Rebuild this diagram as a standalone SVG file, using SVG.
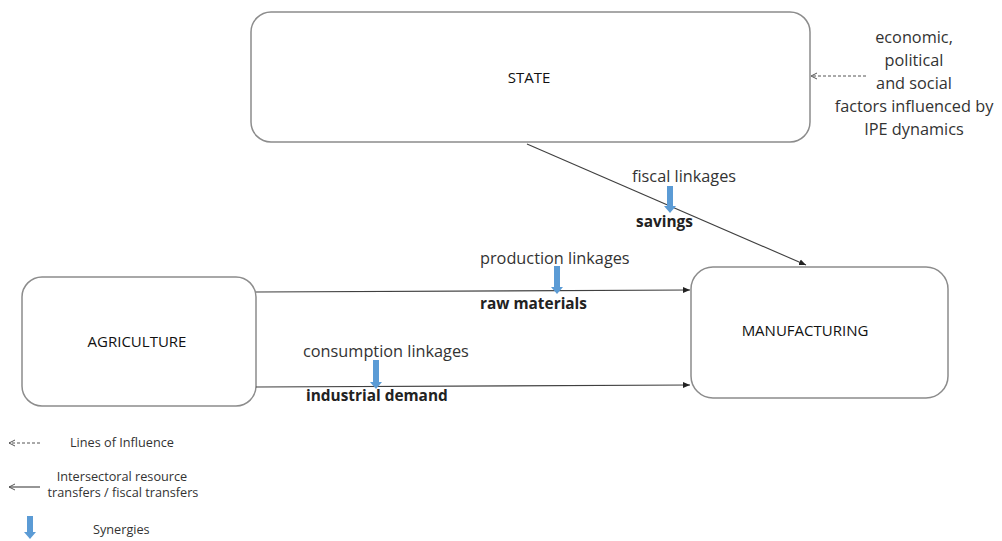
<svg xmlns="http://www.w3.org/2000/svg" width="1002" height="541" viewBox="0 0 1002 541">
<style>
.box{fill:#fff;stroke:#8c8c8c;stroke-width:1.5}
.lbl{font-family:"Open Sans","Liberation Sans",sans-serif;font-size:15px;fill:#111;text-anchor:middle}
.t{font-family:"Open Sans","Liberation Sans",sans-serif;font-size:16.3px;fill:#333}
.b{font-family:"Open Sans","Liberation Sans",sans-serif;font-size:15.4px;font-weight:bold;fill:#222}
.lg{font-family:"Open Sans","Liberation Sans",sans-serif;font-size:12.7px;fill:#333}
.ln{stroke:#404040;stroke-width:1.1;fill:none}
.dash{stroke:#555;stroke-width:1;stroke-dasharray:3 2;fill:none}
.syn{stroke:#5b9bd5;stroke-width:6;fill:none}
</style>
<defs>
<marker id="ah" markerWidth="8" markerHeight="8" refX="7" refY="4" orient="auto" markerUnits="userSpaceOnUse">
<path d="M0,1 L7,4 L0,7 Z" fill="#222"/>
</marker>
<marker id="ao" markerWidth="8" markerHeight="8" refX="7" refY="4" orient="auto" markerUnits="userSpaceOnUse">
<path d="M1,1 L7,4 L1,7" fill="none" stroke="#555" stroke-width="1"/>
</marker>
<marker id="sh" markerWidth="12" markerHeight="8" refX="6" refY="0" orient="0" markerUnits="userSpaceOnUse">
<path d="M0,0 L12,0 L6,7 Z" fill="#5b9bd5"/>
</marker>
</defs>
<g id="state"><rect class="box" x="251" y="12" width="559" height="130" rx="20"/><text class="lbl" x="529" y="83">STATE</text></g>
<g id="agriculture"><rect class="box" x="22" y="277" width="234" height="129" rx="20"/><text class="lbl" x="137" y="347">AGRICULTURE</text></g>
<g id="manufacturing"><rect class="box" x="691" y="267" width="257" height="131" rx="22"/><text class="lbl" x="805" y="336">MANUFACTURING</text></g>
<g id="connectors">
<line class="ln" x1="527" y1="144" x2="806" y2="265" marker-end="url(#ah)"/>
<line class="ln" x1="256" y1="292" x2="690" y2="290" marker-end="url(#ah)"/>
<line class="ln" x1="256" y1="387" x2="690" y2="385" marker-end="url(#ah)"/>
<line class="dash" x1="866" y1="76" x2="811" y2="76" marker-end="url(#ao)"/>
<line class="syn" x1="670" y1="186" x2="670" y2="206" marker-end="url(#sh)"/>
<line class="syn" x1="557" y1="266" x2="557" y2="287" marker-end="url(#sh)"/>
<line class="syn" x1="376" y1="360" x2="376" y2="382" marker-end="url(#sh)"/>
</g>
<g id="labels">
<text class="t" x="632" y="182">fiscal linkages</text>
<text class="b" x="636" y="227">savings</text>
<text class="t" x="480" y="264">production linkages</text>
<text class="b" x="480" y="309">raw materials</text>
<text class="t" x="303" y="357">consumption linkages</text>
<text class="b" x="306" y="401">industrial demand</text>
</g>
<g id="factors" class="t">
<text x="914" y="43" text-anchor="middle">economic,</text>
<text x="914" y="66" text-anchor="middle">political</text>
<text x="914" y="89" text-anchor="middle">and social</text>
<text x="914" y="112" text-anchor="middle">factors influenced by</text>
<text x="914" y="135" text-anchor="middle">IPE dynamics</text>
</g>
<g id="legend">
<line class="dash" x1="40" y1="443" x2="9" y2="443" marker-end="url(#ao)"/>
<text class="lg" x="70" y="447">Lines of Influence</text>
<line class="ln" x1="40" y1="487" x2="9" y2="487" marker-end="url(#ao)"/>
<text class="lg" x="122" y="481" text-anchor="middle">Intersectoral resource</text>
<text class="lg" x="123" y="497" text-anchor="middle">transfers / fiscal transfers</text>
<line class="syn" x1="30" y1="516" x2="30" y2="532" marker-end="url(#sh)"/>
<text class="lg" x="93" y="534">Synergies</text>
</g>
</svg>
